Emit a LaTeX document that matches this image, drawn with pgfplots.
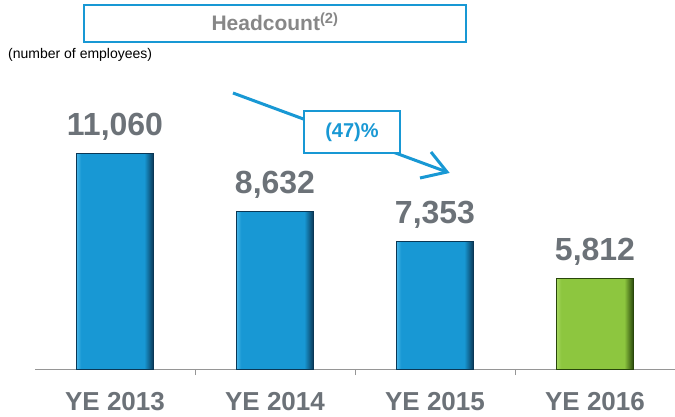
\documentclass[border=0pt]{standalone}
\usepackage{pgfplots}
\pgfplotsset{compat=1.18}
\usepackage{fontspec}
\setmainfont{Liberation Sans}
\definecolor{cblue}{RGB}{24,152,212}
\definecolor{cbluel}{RGB}{70,180,230}
\definecolor{cblued}{RGB}{10,55,85}
\definecolor{cgreen}{RGB}{141,198,63}
\definecolor{cgreenl}{RGB}{165,215,95}
\definecolor{cgreend}{RGB}{40,70,10}
\definecolor{lgray}{RGB}{108,114,120}
\definecolor{hgray}{RGB}{135,135,135}
\definecolor{axgray}{RGB}{150,150,150}
\pgfdeclarehorizontalshading{bluebar}{100bp}{color(0bp)=(cbluel); color(25bp)=(cbluel); color(28bp)=(cblue); color(69bp)=(cblue); color(75bp)=(cblued); color(100bp)=(cblued)}
\pgfdeclarehorizontalshading{greenbar}{100bp}{color(0bp)=(cgreenl); color(25bp)=(cgreenl); color(28bp)=(cgreen); color(69bp)=(cgreen); color(75bp)=(cgreend); color(100bp)=(cgreend)}
\begin{document}
\begin{tikzpicture}
\path[use as bounding box] (0,0) rectangle (675pt,416pt);
\begin{axis}[
  at={(35pt,47pt)}, anchor=south west,
  scale only axis, width=640pt, height=321.6pt,
  xmin=-0.5, xmax=3.5, ymin=2000, ymax=15500,
  axis x line=bottom, axis y line=none,
  x axis line style={-, draw=axgray, line width=1pt},
  xtick={0,1,2,3},
  xticklabels={YE 2013,YE 2014,YE 2015,YE 2016},
  major tick length=0pt,
  extra x ticks={0.5,1.5,2.5},
  extra x tick labels={},
  extra x tick style={major tick length=6pt, tick align=outside, tick style={draw=axgray, line width=1pt}},
  xticklabel style={font=\bfseries\fontsize{26}{26}\selectfont, text=lgray, anchor=base, yshift=-41pt, inner sep=0pt},
  ybar, bar width=77pt,
  /pgf/number format/.cd, 1000 sep={,}, assume math mode=true, /pgfplots/.cd,
  nodes near coords,
  every node near coord/.append style={font=\bfseries\fontsize{32}{32}\selectfont, text=lgray, anchor=base, inner sep=0pt, yshift=18pt},
  clip=false,
]
\addplot[bar shift=0pt, draw=cblued, line width=0.5pt, shading=bluebar] coordinates {(0,11060)};
\addplot[bar shift=0pt, draw=cblued, line width=0.5pt, shading=bluebar] coordinates {(1,8632)};
\addplot[bar shift=0pt, draw=cblued, line width=0.5pt, shading=bluebar] coordinates {(2,7353)};
\addplot[bar shift=0pt, draw=cgreend, line width=0.5pt, shading=greenbar] coordinates {(3,5812)};
\end{axis}
\begin{scope}[x=1pt,y=-1pt,yshift=416pt]
% header
\draw[cblue, line width=2pt] (84,5) rectangle (466,42);
\node[font=\bfseries\fontsize{21}{21}\selectfont, text=hgray, anchor=base] at (275,31) {Headcount\textsuperscript{(2)}};
\node[font=\fontsize{14}{14}\selectfont, anchor=base west, inner sep=0pt] at (8,59) {(number of employees)};
% arrow
\draw[cblue, line width=3pt] (233,93) -- (447,172);
\draw[cblue, line width=3pt] (431,152) -- (447,172) -- (420,178);
\draw[cblue, line width=1.5pt, fill=white] (304,111) rectangle (400,153);
\node[font=\bfseries\fontsize{20}{20}\selectfont, text=cblue] at (352,132) {(47)\%};
\end{scope}
\end{tikzpicture}
\end{document}
